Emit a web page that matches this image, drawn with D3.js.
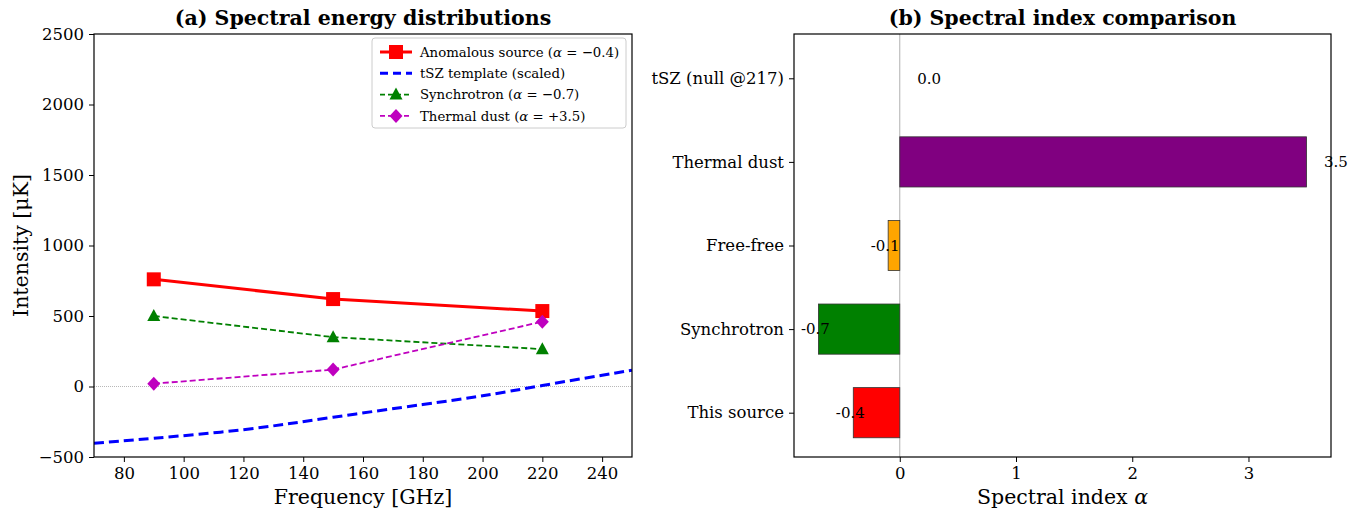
<!DOCTYPE html>
<html>
<head>
<meta charset="utf-8">
<title>SED and spectral index</title>
<script src="https://cdn.jsdelivr.net/npm/d3@7"></script>
<style>
	body { margin: 0; background: #fff; }
	svg, svg text { font-family: "DejaVu Serif", serif; }
	.tick text { font-size: 16.5px; fill: #000; }
	.tick line { stroke: #000; }
	.domain { stroke: none; }
</style>
</head>
<body>
<div id="chart"></div>
<script>
// left panel data
var freqs = [90, 150, 220];
var anomalous = [760, 620, 535];
var synchrotron = [500, 350, 265];
var dust = [20, 120, 460];
var tszFreqs = [70, 90, 120, 150, 180, 200, 220, 240, 250];
var tszValues = [-403, -367, -306, -218, -128, -66, 7, 80, 116];

// right panel data
var categories = ["This source", "Synchrotron", "Free-free", "Thermal dust", "tSZ (null @217)"];
var alphas = [-0.4, -0.7, -0.1, 3.5, 0.0];
var barColors = ["#ff0000", "#008000", "#ffa500", "#800080", "#0000ff"];

var W = 1364, H = 510;
var svg = d3.select("#chart").append("svg").attr("width", W).attr("height", H);

// ---------- (a) ----------
var a = { left: 94, right: 632, top: 34, bottom: 457 };
var x = d3.scaleLinear().domain([70, 250]).range([a.left, a.right]);
var y = d3.scaleLinear().domain([-500, 2500]).range([a.bottom, a.top]);

svg.append("clipPath").attr("id", "clipA")
	.append("rect").attr("x", a.left).attr("y", a.top)
	.attr("width", a.right - a.left).attr("height", a.bottom - a.top);

svg.append("g").attr("transform", "translate(0," + a.bottom + ")")
	.call(d3.axisBottom(x).tickValues(d3.range(80, 241, 20)).tickSize(5).tickPadding(5))
	.attr("font-family", null);
svg.append("g").attr("transform", "translate(" + a.left + ",0)")
	.call(d3.axisLeft(y).tickValues(d3.range(-500, 2501, 500)).tickSize(5).tickPadding(5)
		.tickFormat(function(d) { return d < 0 ? "\u2212" + Math.abs(d) : d; }))
	.attr("font-family", null);

var plotA = svg.append("g").attr("clip-path", "url(#clipA)");

// zero line
plotA.append("line")
	.attr("x1", a.left).attr("x2", a.right).attr("y1", y(0)).attr("y2", y(0))
	.attr("stroke", "#888").attr("stroke-width", 0.6).attr("stroke-dasharray", "1,1");

var line = d3.line().x(function(d) { return x(d[0]); }).y(function(d) { return y(d[1]); });

// tSZ template
plotA.append("path")
	.datum(d3.zip(tszFreqs, tszValues))
	.attr("d", line.curve(d3.curveNatural))
	.attr("fill", "none").attr("stroke", "#0000ff").attr("stroke-width", 3)
	.attr("stroke-dasharray", "10,5");
line.curve(d3.curveLinear);

function series(vals, color, width, dash) {
	plotA.append("path")
		.datum(d3.zip(freqs, vals))
		.attr("d", line)
		.attr("fill", "none").attr("stroke", color).attr("stroke-width", width)
		.attr("stroke-dasharray", dash);
}
series(anomalous, "#ff0000", 3, null);
series(synchrotron, "#008000", 1.8, "6,3");
series(dust, "#bf00bf", 1.8, "6,3");

function marker(g, type, cx, cy, color) {
	if (type == "square") {
		g.append("rect").attr("x", cx - 7).attr("y", cy - 7).attr("width", 14).attr("height", 14).attr("fill", color);
	} else if (type == "triangle") {
		g.append("path").attr("d", "M" + cx + "," + (cy - 7) + "L" + (cx + 6.5) + "," + (cy + 5) + "L" + (cx - 6.5) + "," + (cy + 5) + "Z").attr("fill", color);
	} else {
		g.append("path").attr("d", "M" + cx + "," + (cy - 7) + "L" + (cx + 6.5) + "," + cy + "L" + cx + "," + (cy + 7) + "L" + (cx - 6.5) + "," + cy + "Z").attr("fill", color);
	}
}
freqs.forEach(function(f, i) {
	marker(plotA, "square", x(f), y(anomalous[i]), "#ff0000");
	marker(plotA, "triangle", x(f), y(synchrotron[i]), "#008000");
	marker(plotA, "diamond", x(f), y(dust[i]), "#bf00bf");
});

svg.append("rect").attr("x", a.left).attr("y", a.top)
	.attr("width", a.right - a.left).attr("height", a.bottom - a.top)
	.attr("fill", "none").attr("stroke", "#000").attr("stroke-width", 1.2);

// legend
var leg = svg.append("g").attr("transform", "translate(372,38)");
leg.append("rect").attr("width", 254).attr("height", 90).attr("rx", 3)
	.attr("fill", "#fff").attr("fill-opacity", 0.8).attr("stroke", "#ccc");
var legItems = [
	{ name: "Anomalous source (", val: " = \u22120.4)", color: "#ff0000", width: 3, dash: null, m: "square" },
	{ name: "tSZ template (scaled)", val: null, color: "#0000ff", width: 3, dash: "8,5", m: null },
	{ name: "Synchrotron (", val: " = \u22120.7)", color: "#008000", width: 1.8, dash: "5,3", m: "triangle" },
	{ name: "Thermal dust (", val: " = +3.5)", color: "#bf00bf", width: 1.8, dash: "5,3", m: "diamond" }
];
legItems.forEach(function(d, i) {
	var yy = 14 + i * 21.3;
	leg.append("line").attr("x1", 8).attr("x2", 40).attr("y1", yy).attr("y2", yy)
		.attr("stroke", d.color).attr("stroke-width", d.width).attr("stroke-dasharray", d.dash);
	if (d.m) marker(leg, d.m, 24, yy, d.color);
	var t = leg.append("text").attr("x", 48).attr("y", yy).attr("dy", "0.35em")
		.attr("font-size", 13.3).text(d.name);
	if (d.val) {
		t.append("tspan").attr("font-style", "italic").text("\u03b1");
		t.append("tspan").text(d.val);
	}
});

svg.append("text").attr("x", (a.left + a.right) / 2).attr("y", 25)
	.attr("text-anchor", "middle").attr("font-size", 20.5).attr("font-weight", "bold")
	.text("(a) Spectral energy distributions");
svg.append("text").attr("x", (a.left + a.right) / 2).attr("y", 504)
	.attr("text-anchor", "middle").attr("font-size", 20.5).text("Frequency [GHz]");
svg.append("text").attr("transform", "translate(28," + ((a.top + a.bottom) / 2) + ") rotate(-90)")
	.attr("text-anchor", "middle").attr("font-size", 20.5).text("Intensity [\u03bcK]");

// ---------- (b) ----------
var b = { left: 794, right: 1331, top: 34, bottom: 457 };
var xb = d3.scaleLinear().domain([-0.91, 3.71]).range([b.left, b.right]);
var yb = d3.scaleLinear().domain([-0.53, 4.53]).range([b.bottom, b.top]);
var barH = 0.6;

svg.append("g").attr("transform", "translate(0," + b.bottom + ")")
	.call(d3.axisBottom(xb).tickValues([0, 1, 2, 3]).tickFormat(d3.format("d")).tickSize(5).tickPadding(5))
	.attr("font-family", null);
svg.append("g").attr("transform", "translate(" + b.left + ",0)")
	.call(d3.axisLeft(yb).tickValues(d3.range(categories.length)).tickSize(5).tickPadding(5)
		.tickFormat(function(d) { return categories[d]; }))
	.attr("font-family", null);

svg.append("line").attr("x1", xb(0)).attr("x2", xb(0)).attr("y1", b.top).attr("y2", b.bottom)
	.attr("stroke", "#b0b0b0").attr("stroke-width", 1);

svg.append("g").selectAll("rect")
	.data(alphas)
	.enter()
		.append("rect")
		.attr("x", function(d) { return xb(Math.min(0, d)); })
		.attr("width", function(d) { return Math.abs(xb(d) - xb(0)); })
		.attr("y", function(d, i) { return yb(i + barH / 2); })
		.attr("height", yb(0) - yb(barH))
		.attr("fill", function(d, i) { return barColors[i]; })
		.attr("stroke", function(d) { return d == 0 ? "none" : "#333"; })
		.attr("stroke-width", 0.8);

svg.append("g").selectAll("text")
	.data(alphas)
	.enter()
		.append("text")
		.attr("x", function(d) { return xb(d < 0 ? d - 0.15 : d + 0.15); })
		.attr("y", function(d, i) { return yb(i); })
		.attr("dy", "0.35em")
		.attr("font-size", 15)
		.text(function(d) { return d.toFixed(1); });

svg.append("rect").attr("x", b.left).attr("y", b.top)
	.attr("width", b.right - b.left).attr("height", b.bottom - b.top)
	.attr("fill", "none").attr("stroke", "#000").attr("stroke-width", 1.2);

svg.append("text").attr("x", (b.left + b.right) / 2).attr("y", 25)
	.attr("text-anchor", "middle").attr("font-size", 20.5).attr("font-weight", "bold")
	.text("(b) Spectral index comparison");
var xl = svg.append("text").attr("x", (b.left + b.right) / 2).attr("y", 504)
	.attr("text-anchor", "middle").attr("font-size", 20.5).text("Spectral index ");
xl.append("tspan").attr("font-style", "italic").text("\u03b1");
</script>
</body>
</html>
